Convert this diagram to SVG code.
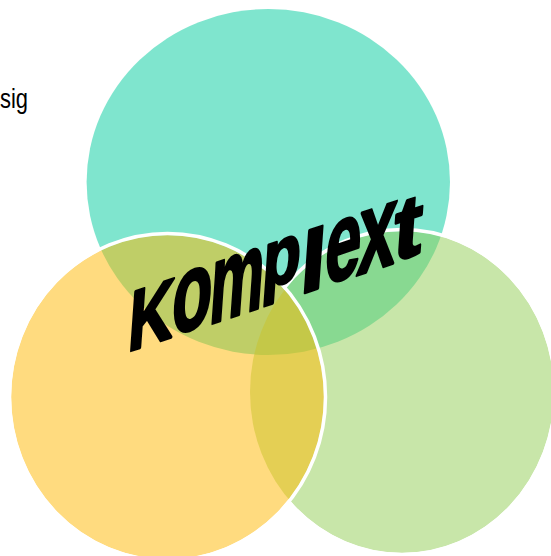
<svg xmlns="http://www.w3.org/2000/svg" width="551" height="556" viewBox="0 0 551 556">
  <style>
    .fill { stroke: none; }
    .edge { fill: none; stroke: #ffffff; stroke-width: 3.5; }
    .word { font-family: "Liberation Sans", Arial, sans-serif; font-weight: bold; fill: #000000; stroke: #000000; stroke-width: 3; stroke-linejoin: round; }
    .side { font-family: "Liberation Sans", Arial, sans-serif; font-size: 27px; fill: #000000; }
  </style>
  <defs>
    <clipPath id="outsideYellow">
      <path clip-rule="evenodd" d="M-10,-10H561V566H-10Z M11,397 a156.5,162 0 1,0 313,0 a156.5,162 0 1,0 -313,0Z"/>
    </clipPath>
  </defs>
  <rect width="551" height="556" fill="#ffffff"/>
  <text class="side" x="0" y="108" textLength="28" lengthAdjust="spacingAndGlyphs">sig</text>
  <g id="node-teal">
    <ellipse class="fill" cx="268.3" cy="182" rx="181.7" ry="173" fill="#00CB9D" fill-opacity="0.5"/>
  </g>
  <g id="node-green">
    <ellipse class="fill" cx="402" cy="392" rx="152" ry="161" fill="#91CD53" fill-opacity="0.5"/>
    <ellipse class="edge" cx="402" cy="392" rx="153.5" ry="162.5" clip-path="url(#outsideYellow)"/>
  </g>
  <g id="node-yellow">
    <ellipse class="fill" cx="167.5" cy="397" rx="156.5" ry="162" fill="#FFB700" fill-opacity="0.5"/>
    <ellipse class="edge" cx="167.5" cy="397" rx="158" ry="163.5"/>
  </g>
  <g id="connectors"/>
  <g id="label" transform="matrix(1,-0.333,-0.07,1,130,352)">
    <text class="word"><tspan x="-3" y="-1" font-size="86" textLength="45" lengthAdjust="spacingAndGlyphs">K</tspan><tspan x="40" y="-2.5" font-size="112" textLength="40" lengthAdjust="spacingAndGlyphs">o</tspan><tspan x="78" y="-1" font-size="115" textLength="54" lengthAdjust="spacingAndGlyphs">m</tspan><tspan x="130" y="-18.5" font-size="83" textLength="38" lengthAdjust="spacingAndGlyphs">p</tspan><tspan x="169" y="-1" font-size="86" textLength="25" lengthAdjust="spacingAndGlyphs">l</tspan><tspan x="193" y="-2.5" font-size="112" textLength="36" lengthAdjust="spacingAndGlyphs">e</tspan><tspan x="226" y="-1" font-size="118" textLength="38" lengthAdjust="spacingAndGlyphs">x</tspan><tspan x="262" y="-2.5" font-size="89" textLength="28" lengthAdjust="spacingAndGlyphs">t</tspan></text>
  </g>
</svg>
